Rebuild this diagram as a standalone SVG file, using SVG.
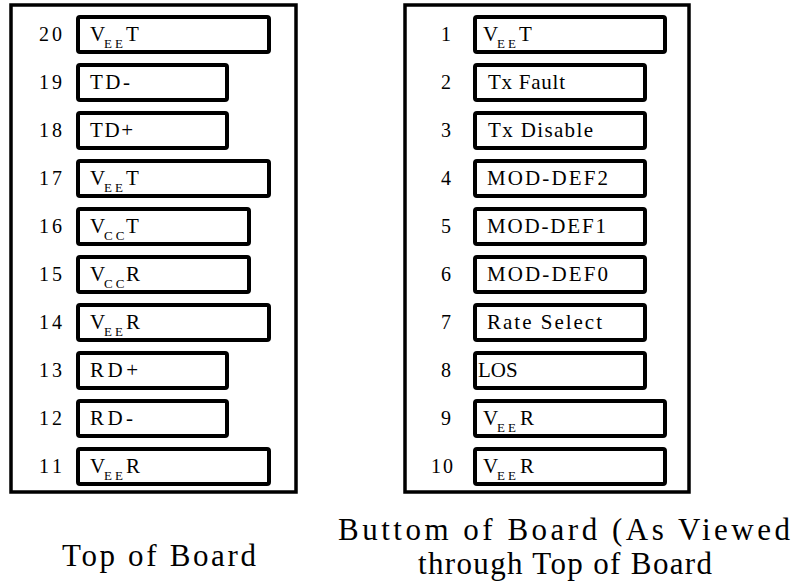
<svg xmlns="http://www.w3.org/2000/svg" width="793" height="585" viewBox="0 0 793 585">
<style>
.outer{fill:#fff;stroke:#000;stroke-width:3.5}
.pin{fill:#fff;stroke:#000;stroke-width:4}
text{font-family:"Liberation Serif","DejaVu Serif","Times New Roman",serif;fill:#000}
.num{font-size:20px;text-anchor:end}
.lbl{font-size:21px}
.sub{font-size:13px;letter-spacing:3px}
.cap{font-size:31px}
</style>
<rect width="793" height="585" fill="#fff"/>
<g id="top-board">
<rect class="outer" x="11" y="5" width="285" height="487"/>
<g id="pin20"><rect class="pin" x="78" y="17" width="191" height="35" rx="2"/><text class="num" x="62" y="41" textLength="23">20</text><text class="lbl" x="90" y="41">V</text><text class="sub" x="104" y="48">EE</text><text class="lbl" x="126" y="41">T</text></g>
<g id="pin19"><rect class="pin" x="78" y="65" width="149" height="35" rx="2"/><text class="num" x="62" y="89" textLength="23">19</text><text class="lbl" x="90" y="89" textLength="40">TD-</text></g>
<g id="pin18"><rect class="pin" x="78" y="113" width="149" height="35" rx="2"/><text class="num" x="62" y="137" textLength="23">18</text><text class="lbl" x="90" y="137" textLength="43">TD+</text></g>
<g id="pin17"><rect class="pin" x="78" y="161" width="191" height="35" rx="2"/><text class="num" x="62" y="185" textLength="23">17</text><text class="lbl" x="90" y="185">V</text><text class="sub" x="104" y="192">EE</text><text class="lbl" x="126" y="185">T</text></g>
<g id="pin16"><rect class="pin" x="78" y="209" width="171" height="35" rx="2"/><text class="num" x="62" y="233" textLength="23">16</text><text class="lbl" x="90" y="233">V</text><text class="sub" x="104" y="240">CC</text><text class="lbl" x="126" y="233">T</text></g>
<g id="pin15"><rect class="pin" x="78" y="257" width="171" height="35" rx="2"/><text class="num" x="62" y="281" textLength="23">15</text><text class="lbl" x="90" y="281">V</text><text class="sub" x="104" y="288">CC</text><text class="lbl" x="126" y="281">R</text></g>
<g id="pin14"><rect class="pin" x="78" y="305" width="191" height="35" rx="2"/><text class="num" x="62" y="329" textLength="23">14</text><text class="lbl" x="90" y="329">V</text><text class="sub" x="104" y="336">EE</text><text class="lbl" x="126" y="329">R</text></g>
<g id="pin13"><rect class="pin" x="78" y="353" width="149" height="35" rx="2"/><text class="num" x="62" y="377" textLength="23">13</text><text class="lbl" x="90" y="377" textLength="48">RD+</text></g>
<g id="pin12"><rect class="pin" x="78" y="401" width="149" height="35" rx="2"/><text class="num" x="62" y="425" textLength="23">12</text><text class="lbl" x="90" y="425" textLength="43">RD-</text></g>
<g id="pin11"><rect class="pin" x="78" y="449" width="191" height="35" rx="2"/><text class="num" x="62" y="473" textLength="23">11</text><text class="lbl" x="90" y="473">V</text><text class="sub" x="104" y="480">EE</text><text class="lbl" x="126" y="473">R</text></g>
</g>
<g id="bottom-board">
<rect class="outer" x="405" y="5" width="284" height="487"/>
<g id="pin1"><rect class="pin" x="475" y="17" width="190" height="35" rx="2"/><text class="num" x="451" y="41">1</text><text class="lbl" x="483" y="41">V</text><text class="sub" x="497" y="48">EE</text><text class="lbl" x="519" y="41">T</text></g>
<g id="pin2"><rect class="pin" x="475" y="65" width="170" height="35" rx="2"/><text class="num" x="451" y="89">2</text><text class="lbl" x="488" y="89" textLength="77">Tx Fault</text></g>
<g id="pin3"><rect class="pin" x="475" y="113" width="170" height="35" rx="2"/><text class="num" x="451" y="137">3</text><text class="lbl" x="488" y="137" textLength="105">Tx Disable</text></g>
<g id="pin4"><rect class="pin" x="475" y="161" width="170" height="35" rx="2"/><text class="num" x="451" y="185">4</text><text class="lbl" x="487" y="185" textLength="121">MOD-DEF2</text></g>
<g id="pin5"><rect class="pin" x="475" y="209" width="170" height="35" rx="2"/><text class="num" x="451" y="233">5</text><text class="lbl" x="487" y="233" textLength="119">MOD-DEF1</text></g>
<g id="pin6"><rect class="pin" x="475" y="257" width="170" height="35" rx="2"/><text class="num" x="451" y="281">6</text><text class="lbl" x="487" y="281" textLength="121">MOD-DEF0</text></g>
<g id="pin7"><rect class="pin" x="475" y="305" width="170" height="35" rx="2"/><text class="num" x="451" y="329">7</text><text class="lbl" x="487" y="329" textLength="115">Rate Select</text></g>
<g id="pin8"><rect class="pin" x="475" y="353" width="170" height="35" rx="2"/><text class="num" x="451" y="377">8</text><text class="lbl" x="478" y="377">LOS</text></g>
<g id="pin9"><rect class="pin" x="475" y="401" width="190" height="35" rx="2"/><text class="num" x="451" y="425">9</text><text class="lbl" x="483" y="425">V</text><text class="sub" x="497" y="432">EE</text><text class="lbl" x="520" y="425">R</text></g>
<g id="pin10"><rect class="pin" x="475" y="449" width="190" height="35" rx="2"/><text class="num" x="453" y="473" textLength="22">10</text><text class="lbl" x="483" y="473">V</text><text class="sub" x="497" y="480">EE</text><text class="lbl" x="520" y="473">R</text></g>
</g>
<g id="captions">
<text class="cap" x="62" y="566" textLength="194">Top of Board</text>
<text class="cap" x="338" y="540" textLength="452">Buttom of Board (As Viewed</text>
<text class="cap" x="418" y="574" textLength="294">through Top of Board</text>
</g>
<g id="connectors"/>
</svg>
